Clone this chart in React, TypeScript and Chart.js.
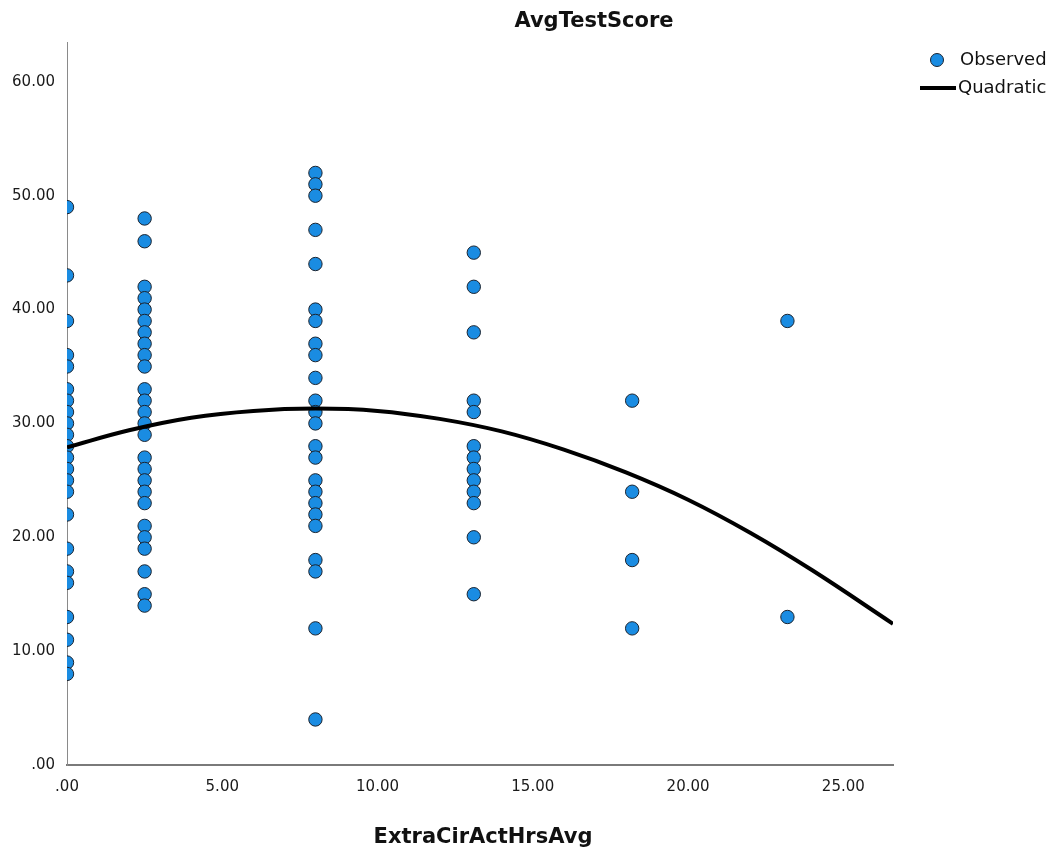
import React, { useEffect, useRef } from "react";
import { Chart, registerables } from "chart.js";

Chart.register(...registerables);

// ---- data ----
const chartTitle = "AvgTestScore";
const xAxisTitle = "ExtraCirActHrsAvg";
const legendLabels = ["Observed", "Quadratic"];

const xCategories = [0, 2.5, 8, 13.1, 18.2, 23.2];
const scoresAt0 = [49, 43, 39, 36, 35, 33, 32, 31, 30, 29, 28, 27, 26, 25, 24, 22, 19, 17, 16, 13, 11, 9, 8];
const scoresAt2_5 = [48, 46, 42, 41, 40, 39, 38, 37, 36, 35, 33, 32, 31, 30, 29, 27, 26, 25, 24, 23, 21, 20, 19, 17, 15, 14];
const scoresAt8 = [52, 51, 50, 47, 44, 40, 39, 37, 36, 34, 32, 31, 30, 28, 27, 25, 24, 23, 22, 21, 18, 17, 12, 4];
const scoresAt13 = [45, 42, 38, 32, 31, 28, 27, 26, 25, 24, 23, 20, 15];
const scoresAt18 = [32, 24, 18, 12];
const scoresAt23 = [39, 13];

const curveX = [0, 2, 4, 6, 8, 10, 12, 14, 16, 18, 20, 22, 24, 26.6];
const curveY = [27.9, 29.4, 30.5, 31.1, 31.3, 31.1, 30.4, 29.3, 27.7, 25.7, 23.3, 20.4, 17.1, 12.4];

const xTickValues = [0, 5, 10, 15, 20, 25];
const yTickValues = [0, 10, 20, 30, 40, 50, 60];
const xMax = 26.6;
const yMax = 63.5;

const FONT = "'DejaVu Sans', 'Liberation Sans', sans-serif";
const POINT_FILL = "#1a8ce2";
const POINT_BORDER = "#1b2430";

const fmt = (v: number) => (v === 0 ? ".00" : v.toFixed(2));

export default function App() {
  const ref = useRef<HTMLCanvasElement | null>(null);

  useEffect(() => {
    if (!ref.current) return;
    const columns = [scoresAt0, scoresAt2_5, scoresAt8, scoresAt13, scoresAt18, scoresAt23];
    const observed: { x: number; y: number }[] = [];
    columns.forEach((col, i) => col.forEach((y) => observed.push({ x: xCategories[i], y })));
    const curve = curveX.map((x, i) => ({ x, y: curveY[i] }));

    const overlay = {
      id: "overlayText",
      afterDraw(chart: any) {
        const ctx = chart.ctx;
        const area = chart.chartArea;
        ctx.save();
        ctx.fillStyle = "#111";
        ctx.textBaseline = "middle";
        // title
        ctx.font = `bold 21px ${FONT}`;
        ctx.textAlign = "center";
        ctx.fillText(chartTitle, 594, 22);
        // x axis title
        ctx.fillText(xAxisTitle, (area.left + area.right) / 2 + 3, 838);
        // legend
        ctx.beginPath();
        ctx.arc(937, 60, 6.5, 0, Math.PI * 2);
        ctx.fillStyle = POINT_FILL;
        ctx.fill();
        ctx.lineWidth = 1;
        ctx.strokeStyle = POINT_BORDER;
        ctx.stroke();
        ctx.beginPath();
        ctx.moveTo(920, 88);
        ctx.lineTo(956, 88);
        ctx.lineWidth = 4;
        ctx.strokeStyle = "#000";
        ctx.stroke();
        ctx.fillStyle = "#111";
        ctx.font = `18px ${FONT}`;
        ctx.textAlign = "left";
        ctx.fillText(legendLabels[0], 960, 60);
        ctx.fillText(legendLabels[1], 958, 88);
        ctx.restore();
      },
    };

    const chart = new Chart(ref.current, {
      type: "scatter",
      data: {
        datasets: [
          {
            type: "line",
            label: legendLabels[1],
            data: curve,
            borderColor: "#000",
            borderWidth: 4,
            pointRadius: 0,
            fill: false,
            tension: 0.4,
            order: 0,
            clip: 0,
          } as any,
          {
            label: legendLabels[0],
            data: observed,
            backgroundColor: POINT_FILL,
            borderColor: POINT_BORDER,
            borderWidth: 1,
            pointRadius: 6.7,
            order: 1,
            clip: 0,
          },
        ],
      },
      options: {
        responsive: false,
        animation: false,
        layout: { padding: { top: 42, right: 163, left: 0, bottom: 0 } },
        plugins: {
          legend: { display: false },
          title: { display: false },
          tooltip: { enabled: false },
        },
        scales: {
          x: {
            type: "linear",
            min: 0,
            max: xMax,
            afterBuildTicks: (s: any) => {
              s.ticks = xTickValues.map((value) => ({ value }));
            },
            afterFit: (s: any) => {
              s.height = 89;
            },
            ticks: {
              callback: (v: any) => fmt(Number(v)),
              font: { family: FONT, size: 15 },
              color: "#1a1a1a",
              padding: 13,
              maxRotation: 0,
              autoSkip: false,
            },
            grid: { display: false, drawTicks: false },
            border: { display: true, color: "#7a7a7a", width: 2 },
          },
          y: {
            type: "linear",
            min: 0,
            max: yMax,
            afterBuildTicks: (s: any) => {
              s.ticks = yTickValues.map((value) => ({ value }));
            },
            afterFit: (s: any) => {
              s.width = 67;
            },
            ticks: {
              callback: (v: any) => fmt(Number(v)),
              font: { family: FONT, size: 15 },
              color: "#1a1a1a",
              padding: 12,
              autoSkip: false,
            },
            grid: { display: false, drawTicks: false },
            border: { display: true, color: "#8a8a8a", width: 1 },
          },
        },
      },
      plugins: [overlay],
    });
    return () => chart.destroy();
  }, []);

  return (
    <div style={{ position: "absolute", left: 0, top: 0, width: 1056, height: 854, background: "#fff" }}>
      <canvas ref={ref} width={1056} height={854} style={{ display: "block" }} />
    </div>
  );
}
